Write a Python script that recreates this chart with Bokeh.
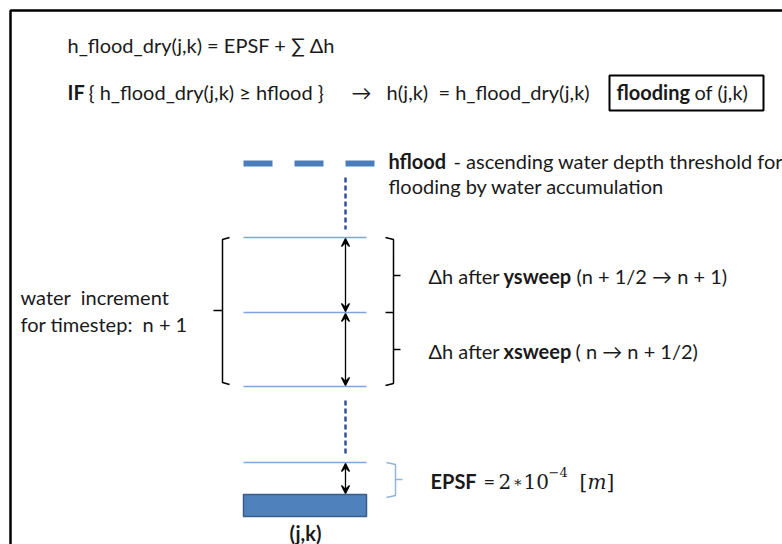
from bokeh.plotting import figure
from bokeh.models import Range1d, Arrow, VeeHead, ColumnDataSource
from bokeh.core.properties import value
from bokeh.embed import file_html
from bokeh.resources import INLINE

# ---- diagram data (picture pixel coordinates) ----
level_y = [237, 312, 386, 462]          # thin water-level lines
level_x = [243, 366]
hflood_y = 163
hflood_x = [243, 374]
cell_box = dict(left=243, right=366, top=494, bottom=516)
axis_x = 345
upper_dash_y = [177, 229]
lower_dash_y = [400, 454]
arrow_pairs = [(237, 312), (312, 386), (462, 494)]

NB = "\u00a0"
FS = 20
# ---- texts: (x, y, text, bold) ----
texts = [
    (67, 44, "h_flood_dry(j,k) = EPSF + \u2211 \u0394h", False),
    (67, 91, "IF", True),
    (88, 91, "{ h_flood_dry(j,k) \u2265 hflood" + NB + "}", False),
    (351, 91, "\u2192", False),
    (386, 91, "h(j,k)" + NB + NB + "= h_flood_dry(j,k)", False),
    (616, 91, "flooding", True),
    (694, 91, "of (j,k)", False),
    (388, 160, "hflood", True),
    (453, 160, "- ascending water depth threshold for", False),
    (388, 185, "flooding by water accumulation", False),
    (428, 275, "\u0394h after", False),
    (503, 275, "ysweep", True),
    (576, 275, "(n + 1/2 \u2192 n + 1)", False),
    (428, 350, "\u0394h after", False),
    (503, 350, "xsweep", True),
    (575, 350, "(" + NB + "n \u2192 n + 1/2)", False),
    (20, 296, "water" + NB + NB + "increment", False),
    (20, 323, "for timestep:" + NB + NB + "n + 1", False),
    (430, 480, "EPSF", True),
    (483, 480, "=", False),
]

# math glyphs of the EPSF value: (x, y, glyph, size, italic)
math_glyphs = [
    (498, 481, "2", 20, False),
    (512, 481, "\u2217", 15, False),
    (523, 481, "10", 20, False),
    (548, 471, "\u22124", 13, False),
    (579, 481, "[", 20, False),
    (587, 481, "m", 20, True),
    (606, 481, "]", 20, False),
]

W, H = 782, 544
p = figure(width=W, height=H, output_backend="svg", toolbar_location=None,
           x_range=Range1d(0, W), y_range=Range1d(H, 0),
           x_axis_location=None, y_axis_location=None, min_border=0)
p.grid.visible = False
p.outline_line_color = None
p.background_fill_color = "white"

# outer frame (top + left, running off the page)
p.line([10, 10, 800], [560, 10, 10], line_color="black", line_width=2.5)

# hflood dashed threshold
p.line(hflood_x, [hflood_y, hflood_y], line_color="#4a7ebb", line_width=6,
       line_dash="29 22")

# dotted vertical lines
for ys in (upper_dash_y, lower_dash_y):
    p.line([axis_x, axis_x], ys, line_color="#2f5597", line_width=2.5,
           line_dash="5 3")

# level lines
for y in level_y:
    p.line(level_x, [y, y], line_color="#7ea6d8", line_width=1.5)

# cell block
p.quad(left=[cell_box["left"]], right=[cell_box["right"]],
       top=[cell_box["top"]], bottom=[cell_box["bottom"]],
       fill_color="#4f81bd", line_color="#385d8a", line_width=1.5)

# double arrows
src = ColumnDataSource(dict(x0=[axis_x] * len(arrow_pairs), x1=[axis_x] * len(arrow_pairs),
                            y0=[a + 1 for a, b in arrow_pairs], y1=[b - 1 for a, b in arrow_pairs]))
p.add_layout(Arrow(start=VeeHead(size=8, line_width=1.3, line_color="black"),
                   end=VeeHead(size=8, line_width=1.3, line_color="black"),
                   x_start="x0", y_start="y0", x_end="x1", y_end="y1",
                   line_width=1.3, line_color="black", source=src))

# left bracket
p.multi_line([[229, 222, 222, 229], [213, 222]],
             [[237, 239, 382, 384], [310, 310]], line_color="black", line_width=1.5)
# right brackets
p.multi_line([[385, 393, 393, 385], [385, 393], [393, 400], [393, 400]],
             [[237, 239, 383, 385], [312, 312], [275, 275], [349, 349]],
             line_color="black", line_width=1.5)
# EPSF brace
p.multi_line([[386, 395, 395, 386], [395, 402]],
             [[462, 464, 495, 497], [479, 479]], line_color="#95b3d7", line_width=1.5)

# flooding box
p.quad(left=[609], right=[763], top=[75], bottom=[110], fill_color=None,
       line_color="black", line_width=2)

# texts
for x, y, t, b in texts:
    p.text([x], [y], text=[t], text_font=value("Lato"), text_font_size=f"{FS}px",
           text_font_style="bold" if b else "normal", text_baseline="middle",
           text_align="left", text_color="#1a1a1a")

p.text([305], [532], text=["(j,k)"], text_font=value("Lato"), text_font_size=f"{FS}px",
       text_font_style="bold", text_baseline="middle", text_align="center",
       text_color="#1a1a1a")

serif = value("DejaVu Serif")
for x, y, g, s, it in math_glyphs:
    p.text([x], [y], text=[g], text_font=serif, text_font_size=f"{s}px",
           text_font_style="italic" if it else "normal",
           text_baseline="middle", text_align="left", text_color="#1a1a1a")

open("out.html", "w").write(file_html(p, INLINE))
